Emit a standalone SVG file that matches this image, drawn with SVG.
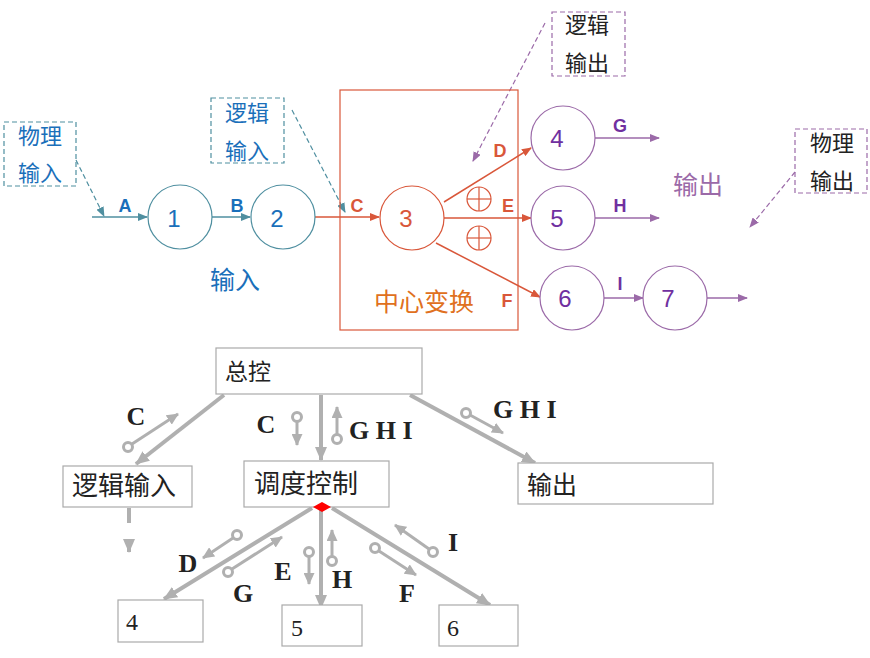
<svg xmlns="http://www.w3.org/2000/svg" width="870" height="658" viewBox="0 0 870 658">
<style>
.cn{font-family:"Noto Sans CJK SC","Noto Sans",sans-serif}
.lat{font-family:"Liberation Sans",Arial,sans-serif;font-weight:bold}
.num{font-family:"Liberation Sans",Arial,sans-serif;font-size:24px}
.ser{font-family:"Liberation Serif","Noto Sans CJK SC",serif;fill:#222}
.serb{font-family:"Liberation Serif",serif;font-weight:bold;fill:#222}
.tcirc{fill:#fff;stroke:#4f8fa0;stroke-width:1.2}
.rcirc{fill:#fff;stroke:#d9573a;stroke-width:1.2}
.pcirc{fill:#fff;stroke:#9b6aa8;stroke-width:1.2}
.tl{stroke:#4f8fa0;stroke-width:1.5;fill:none}
.rl{stroke:#d9573a;stroke-width:1.5;fill:none}
.pl{stroke:#9b6aa8;stroke-width:1.5;fill:none}
.gl{stroke:#b0b0b0;stroke-width:4;fill:none}
.gs{stroke:#b0b0b0;stroke-width:3;fill:none}
.tail{fill:#fff;stroke:#b0b0b0;stroke-width:3}
.box{fill:#fff;stroke:#aaa;stroke-width:1.2}
.dt{fill:none;stroke:#4f8fa0;stroke-width:1.2;stroke-dasharray:5,3}
.dp{fill:none;stroke:#9b6aa8;stroke-width:1.2;stroke-dasharray:5,3}
</style>
<defs>
<marker id="at" markerWidth="10" markerHeight="8" refX="9" refY="4" orient="auto" markerUnits="userSpaceOnUse"><path d="M0,0 L10,4 L0,8 Z" fill="#4f8fa0"/></marker>
<marker id="ar" markerWidth="10" markerHeight="8" refX="9" refY="4" orient="auto" markerUnits="userSpaceOnUse"><path d="M0,0 L10,4 L0,8 Z" fill="#d9573a"/></marker>
<marker id="ap" markerWidth="10" markerHeight="8" refX="9" refY="4" orient="auto" markerUnits="userSpaceOnUse"><path d="M0,0 L10,4 L0,8 Z" fill="#9b6aa8"/></marker>
<marker id="ag" markerWidth="14" markerHeight="12" refX="13" refY="6" orient="auto" markerUnits="userSpaceOnUse"><path d="M0,0 L14,6 L0,12 Z" fill="#b0b0b0"/></marker>
<marker id="ags" markerWidth="12" markerHeight="11" refX="11" refY="5.5" orient="auto" markerUnits="userSpaceOnUse"><path d="M0,0 L12,5.5 L0,11 Z" fill="#b0b0b0"/></marker>
</defs>

<g id="connectors">
  <line class="dt" x1="76" y1="160" x2="104" y2="216" marker-end="url(#at)"/>
  <line class="tl" x1="92" y1="217" x2="147" y2="217" marker-end="url(#at)"/>
  <line class="tl" x1="212" y1="217" x2="250" y2="217" marker-end="url(#at)"/>
  <line class="dt" x1="292" y1="110" x2="345" y2="212" marker-end="url(#at)"/>
  <line class="rl" x1="315" y1="217" x2="379" y2="217" marker-end="url(#ar)"/>
  <line class="rl" x1="444" y1="202" x2="531" y2="148" marker-end="url(#ar)"/>
  <line class="rl" x1="444" y1="218" x2="531" y2="218" marker-end="url(#ar)"/>
  <line class="rl" x1="436" y1="243" x2="540" y2="297" marker-end="url(#ar)"/>
  <line class="dp" x1="545" y1="23" x2="473" y2="161" marker-end="url(#ap)"/>
  <line class="pl" x1="595" y1="138" x2="659" y2="138" marker-end="url(#ap)"/>
  <line class="pl" x1="595" y1="218" x2="659" y2="218" marker-end="url(#ap)"/>
  <line class="pl" x1="604" y1="298" x2="643" y2="298" marker-end="url(#ap)"/>
  <line class="pl" x1="707" y1="298" x2="747" y2="298" marker-end="url(#ap)"/>
  <line class="dp" x1="795" y1="172" x2="750" y2="227" marker-end="url(#ap)"/>

  <line class="gl" x1="224" y1="395" x2="136" y2="464" marker-end="url(#ag)"/>
  <line class="gl" x1="321" y1="395" x2="321" y2="460" marker-end="url(#ag)"/>
  <line class="gl" x1="410" y1="395" x2="535" y2="463" marker-end="url(#ag)"/>
  <line class="gl" x1="129" y1="508" x2="129" y2="523"/>
  <line class="gl" x1="129" y1="540" x2="129" y2="552" marker-end="url(#ag)"/>
  <line class="gl" x1="312" y1="508" x2="164" y2="599" marker-end="url(#ag)"/>
  <line class="gl" x1="321" y1="510" x2="321" y2="608" marker-end="url(#ag)"/>
  <line class="gl" x1="332" y1="508" x2="490" y2="605" marker-end="url(#ag)"/>

  <line class="gs" x1="132" y1="444" x2="178" y2="414" marker-end="url(#ags)"/><circle class="tail" cx="128" cy="447" r="4.5"/>
  <line class="gs" x1="297" y1="421" x2="297" y2="445" marker-end="url(#ags)"/><circle class="tail" cx="297" cy="417" r="4.5"/>
  <line class="gs" x1="337" y1="435" x2="337" y2="407" marker-end="url(#ags)"/><circle class="tail" cx="337" cy="439" r="4.5"/>
  <line class="gs" x1="470" y1="415" x2="503" y2="433" marker-end="url(#ags)"/><circle class="tail" cx="466" cy="413" r="4.5"/>
  <line class="gs" x1="233" y1="538" x2="203" y2="558" marker-end="url(#ags)"/><circle class="tail" cx="237" cy="535" r="4.5"/>
  <line class="gs" x1="232" y1="569" x2="282" y2="537" marker-end="url(#ags)"/><circle class="tail" cx="228" cy="572" r="4.5"/>
  <line class="gs" x1="309" y1="556" x2="309" y2="584" marker-end="url(#ags)"/><circle class="tail" cx="309" cy="552" r="4.5"/>
  <line class="gs" x1="332" y1="557" x2="332" y2="530" marker-end="url(#ags)"/><circle class="tail" cx="332" cy="561" r="4.5"/>
  <line class="gs" x1="379" y1="551" x2="416" y2="575" marker-end="url(#ags)"/><circle class="tail" cx="375" cy="548" r="4.5"/>
  <line class="gs" x1="429" y1="549" x2="395" y2="525" marker-end="url(#ags)"/><circle class="tail" cx="433" cy="552" r="4.5"/>
</g>

<g id="edge-labels" class="lat" font-size="18" text-anchor="middle">
  <text x="125" y="212" fill="#1a6fba">A</text>
  <text x="237" y="212" fill="#1a6fba">B</text>
  <text x="357" y="212" fill="#d9573a">C</text>
  <text x="500" y="157" fill="#d9573a">D</text>
  <text x="508" y="212" fill="#d9573a">E</text>
  <text x="507" y="307" fill="#d9573a">F</text>
  <text x="620" y="132" fill="#7030a0">G</text>
  <text x="620" y="212" fill="#7030a0">H</text>
  <text x="620" y="290" fill="#7030a0">I</text>
</g>

<g id="note-physical-input">
  <rect class="dt" x="4" y="122" width="72" height="64"/>
  <text class="cn" x="40" y="144" font-size="22" fill="#1a6fba" text-anchor="middle">物理</text>
  <text class="cn" x="40" y="181" font-size="22" fill="#1a6fba" text-anchor="middle">输入</text>
</g>
<g id="note-logical-input">
  <rect class="dt" x="211" y="98" width="73" height="65"/>
  <text class="cn" x="247" y="121" font-size="22" fill="#1a6fba" text-anchor="middle">逻辑</text>
  <text class="cn" x="247" y="159" font-size="22" fill="#1a6fba" text-anchor="middle">输入</text>
</g>
<g id="node-1">
  <circle class="tcirc" cx="180" cy="217" r="32"/>
  <text class="num" x="174" y="227" fill="#1a6fba" text-anchor="middle">1</text>
</g>
<g id="node-2">
  <circle class="tcirc" cx="283" cy="217" r="32"/>
  <text class="num" x="277" y="227" fill="#1a6fba" text-anchor="middle">2</text>
</g>
<g id="label-input">
  <text class="cn" x="235" y="289" font-size="25" fill="#1a6fba" text-anchor="middle">输入</text>
</g>
<g id="center-transform">
  <rect x="340" y="90" width="178" height="240" fill="none" stroke="#d9573a" stroke-width="1.2"/>
  <text class="cn" x="424" y="311" font-size="25" fill="#e07020" text-anchor="middle">中心变换</text>
</g>
<g id="node-3">
  <circle class="rcirc" cx="412" cy="218" r="32"/>
  <text class="num" x="406" y="227" fill="#d9573a" text-anchor="middle">3</text>
</g>
<g id="xor-1">
  <circle cx="479" cy="199" r="12" fill="none" stroke="#d9573a" stroke-width="1.2"/>
  <line x1="467" y1="199" x2="491" y2="199" stroke="#d9573a" stroke-width="1.2"/>
  <line x1="479" y1="187" x2="479" y2="211" stroke="#d9573a" stroke-width="1.2"/>
</g>
<g id="xor-2">
  <circle cx="479" cy="238" r="12" fill="none" stroke="#d9573a" stroke-width="1.2"/>
  <line x1="467" y1="238" x2="491" y2="238" stroke="#d9573a" stroke-width="1.2"/>
  <line x1="479" y1="226" x2="479" y2="250" stroke="#d9573a" stroke-width="1.2"/>
</g>
<g id="note-logical-output">
  <rect class="dp" x="552" y="12" width="73" height="64"/>
  <text class="cn" x="587" y="33" font-size="22" fill="#222" text-anchor="middle">逻辑</text>
  <text class="cn" x="587" y="71" font-size="22" fill="#222" text-anchor="middle">输出</text>
</g>
<g id="node-4">
  <circle class="pcirc" cx="563" cy="138" r="32"/>
  <text class="num" x="557" y="147" fill="#7030a0" text-anchor="middle">4</text>
</g>
<g id="node-5">
  <circle class="pcirc" cx="563" cy="218" r="32"/>
  <text class="num" x="557" y="227" fill="#7030a0" text-anchor="middle">5</text>
</g>
<g id="node-6">
  <circle class="pcirc" cx="572" cy="298" r="32"/>
  <text class="num" x="565" y="307" fill="#7030a0" text-anchor="middle">6</text>
</g>
<g id="node-7">
  <circle class="pcirc" cx="675" cy="298" r="32"/>
  <text class="num" x="668" y="307" fill="#7030a0" text-anchor="middle">7</text>
</g>
<g id="label-output">
  <text class="cn" x="698" y="194" font-size="25" fill="#9b6aa8" text-anchor="middle">输出</text>
</g>
<g id="note-physical-output">
  <rect class="dp" x="795" y="129" width="72" height="64"/>
  <text class="cn" x="832" y="151" font-size="22" fill="#222" text-anchor="middle">物理</text>
  <text class="cn" x="832" y="189" font-size="22" fill="#222" text-anchor="middle">输出</text>
</g>

<g id="box-master">
  <rect class="box" x="216" y="348" width="206" height="46"/>
  <text class="ser" x="225" y="380" font-size="23">总控</text>
</g>
<g id="box-logical-input">
  <rect class="box" x="63" y="466" width="129" height="41"/>
  <text class="ser" x="72" y="495" font-size="26">逻辑输入</text>
</g>
<g id="box-dispatch">
  <rect class="box" x="244" y="461" width="145" height="46"/>
  <text class="ser" x="254" y="493" font-size="26">调度控制</text>
  <path d="M313,507 L322,502 L331,507 L322,512 Z" fill="#ff0000"/>
</g>
<g id="box-output">
  <rect class="box" x="518" y="463" width="195" height="41"/>
  <text class="ser" x="527" y="494" font-size="25">输出</text>
</g>
<g id="box-4">
  <rect class="box" x="118" y="600" width="85" height="42"/>
  <text class="ser" x="126" y="630" font-size="24">4</text>
</g>
<g id="box-5">
  <rect class="box" x="282" y="605" width="80" height="41"/>
  <text class="ser" x="291" y="636" font-size="24">5</text>
</g>
<g id="box-6">
  <rect class="box" x="439" y="605" width="79" height="41"/>
  <text class="ser" x="447" y="636" font-size="24">6</text>
</g>

<g id="flow-labels" class="serb" font-size="26">
  <text x="136" y="425" text-anchor="middle">C</text>
  <text x="266" y="433" text-anchor="middle">C</text>
  <text x="349" y="439">G H I</text>
  <text x="493" y="418">G H I</text>
  <text x="188" y="572" text-anchor="middle">D</text>
  <text x="243" y="602" text-anchor="middle">G</text>
  <text x="283" y="580" text-anchor="middle">E</text>
  <text x="342" y="588" text-anchor="middle">H</text>
  <text x="407" y="602" text-anchor="middle">F</text>
  <text x="453" y="551" text-anchor="middle">I</text>
</g>
</svg>
